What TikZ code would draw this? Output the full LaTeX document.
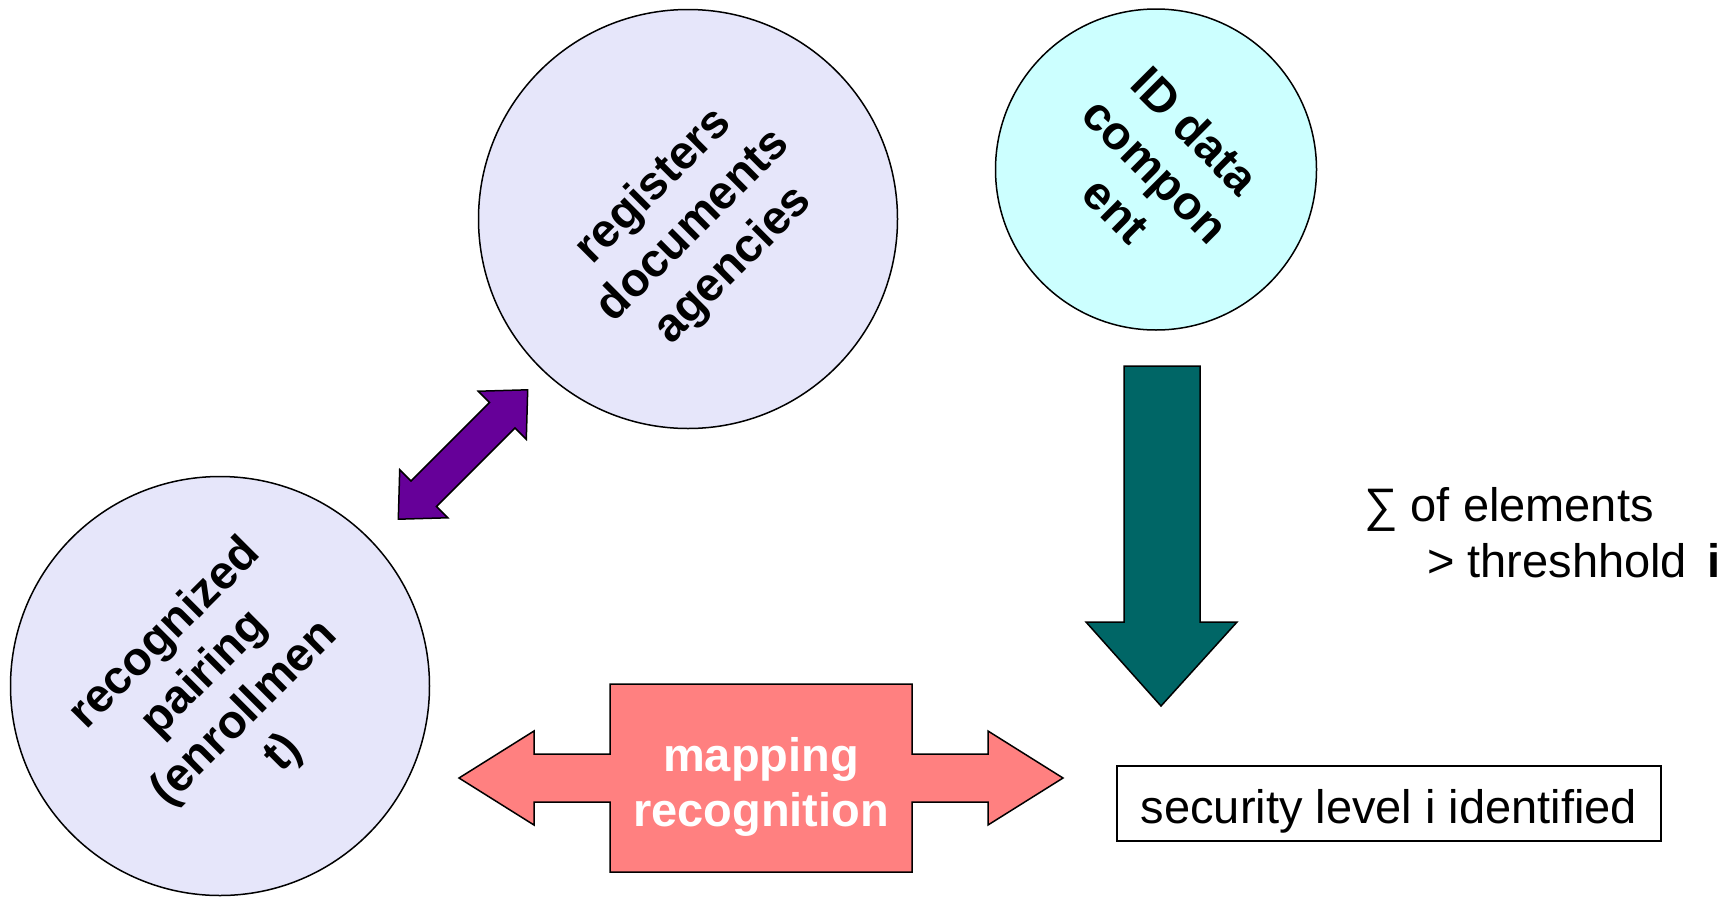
\documentclass[tikz,border=0pt]{standalone}
\usepackage{fontspec}
\setmainfont{Liberation Sans}
\definecolor{lav}{RGB}{230,230,250}
\definecolor{cyanl}{RGB}{204,255,255}
\definecolor{purp}{RGB}{102,0,153}
\definecolor{pinkc}{RGB}{255,128,128}
\definecolor{tealc}{RGB}{0,102,102}
\begin{document}
\begin{tikzpicture}[x=1pt,y=-1pt,
  bubble/.style={circle, draw=black, line width=1.5pt, inner sep=0pt},
  bubbletext/.style={align=center, inner sep=0pt, font=\fontsize{47}{56}\selectfont\bfseries},
  blockarrow/.style={draw=black, line width=1.5pt, line join=miter},
  plaintext/.style={font=\fontsize{47}{56}\selectfont}
]
\useasboundingbox (0,0) rectangle (1729,897);
\fill[white] (0,0) rectangle (1729,897);

% circles
\node[bubble, fill=lav, minimum size=419pt] (reg) at (688,219) {};
\node[bubbletext, rotate=45] (regt) at (694,226) {registers\\documents\\agencies};
\node[bubble, fill=cyanl, minimum size=321pt] (idc) at (1156,169.5) {};
\node[bubbletext, rotate=-45] (idct) at (1156,170) {ID data\\compon\\ent};
\node[bubble, fill=lav, minimum size=419pt] (rec) at (220,686) {};
\node[bubbletext, rotate=45] (rect) at (225,694) {recognized\\pairing\\(enrollmen\\t)};

% purple double arrow between rec and reg
\begin{scope}[shift={(463,454.5)}, rotate=45]
  \draw[blockarrow, fill=purp] (91.5,0) -- (55.5,34) -- (55.5,18) -- (-55.5,18) -- (-55.5,34)
    -- (-91.5,0) -- (-55.5,-34) -- (-55.5,-18) -- (55.5,-18) -- (55.5,-34) -- cycle;
\end{scope}

% teal down arrow
\draw[blockarrow, fill=tealc] (1124,366) -- (1200,366) -- (1200,622) -- (1237,622) -- (1161,706)
  -- (1086,622) -- (1124,622) -- cycle;

% pink left-right arrow callout
\draw[blockarrow, fill=pinkc] (459,778) -- (534,731) -- (534,754) -- (610,754) -- (610,684) -- (912,684)
  -- (912,754) -- (988,754) -- (988,731) -- (1063,778) -- (988,825) -- (988,802) -- (912,802)
  -- (912,872) -- (610,872) -- (610,802) -- (534,802) -- (534,825) -- cycle;
\node[text=white, align=center, font=\fontsize{47}{55}\selectfont\bfseries] (map) at (761,787) {mapping\\recognition};

% security level box
\node[draw=black, line width=1.5pt, minimum width=544pt, minimum height=75pt, inner sep=0pt,
  text height=40pt, text depth=0pt, plaintext] (sec) at (1389,803.5) {security level i identified};

% sum text
\node[anchor=north west, align=left, inner sep=0pt, plaintext] (sum) at (1364,487) {∑ of elements\\\hspace*{63pt}> threshhold\hspace{7pt} \textbf{i}};
\end{tikzpicture}
\end{document}
